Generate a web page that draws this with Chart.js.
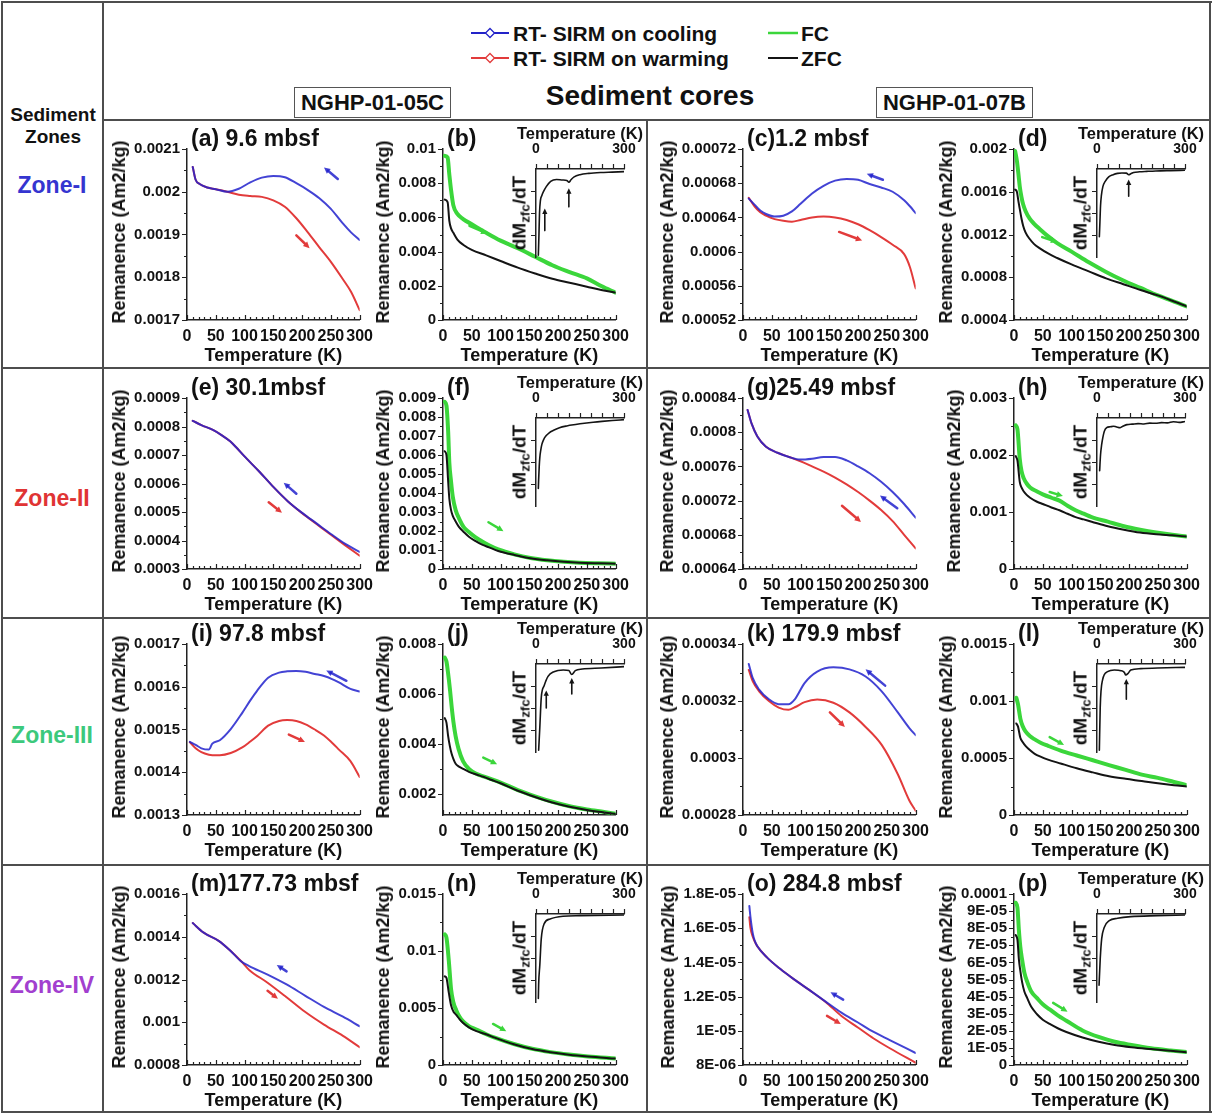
<!DOCTYPE html>
<html>
<head>
<meta charset="utf-8">
<title>RT-SIRM and FC/ZFC curves, NGHP-01-05C and NGHP-01-07B</title>
<script src="https://cdn.jsdelivr.net/npm/chart.js@4.4.1/dist/chart.umd.min.js"></script>
<style>
  body { margin: 0; background: #fff; }
  #page { position: relative; width: 1213px; height: 1115px; overflow: hidden; background: #fff;
          font-family: "Liberation Sans", Arial, Helvetica, sans-serif; font-weight: bold; color: #111; }
  .ln { position: absolute; background: #4d4d4d; }
  .txt { position: absolute; white-space: nowrap; line-height: 1; }
  .box { position: absolute; border: 1.5px solid #555; box-sizing: border-box; display: flex;
         align-items: center; justify-content: center; font-size: 22px; }
  sub { font-size: 0.7em; vertical-align: -0.3em; line-height: 0; }
  canvas { position: absolute; }
</style>
</head>
<body>
<div id="page">
  <svg style="position:absolute;left:0;top:0" width="1213" height="80">
    <line x1="471" y1="33" x2="509" y2="33" stroke="#2323c8" stroke-width="2"/>
    <path d="M490 28.5 l4.5 4.5 l-4.5 4.5 l-4.5 -4.5 z" fill="#fff" stroke="#2323c8" stroke-width="1.3"/>
    <line x1="471" y1="58" x2="509" y2="58" stroke="#e23b3b" stroke-width="2"/>
    <path d="M490 53.5 l4.5 4.5 l-4.5 4.5 l-4.5 -4.5 z" fill="#fff" stroke="#e23b3b" stroke-width="1.3"/>
    <line x1="768" y1="33" x2="798" y2="33" stroke="#3bd63b" stroke-width="2.5"/>
    <line x1="768" y1="58" x2="798" y2="58" stroke="#141414" stroke-width="2"/>
  </svg>
  <div class="box" style="left:294px;top:87px;width:157px;height:31px;">NGHP-01-05C</div>
  <div class="box" style="left:876px;top:87px;width:157px;height:31px;">NGHP-01-07B</div>
</div>
<script>
// ---- data ----
const xTicks = [0, 50, 100, 150, 200, 250, 300];
const insetXTicks = [0, 37.5, 75, 112.5, 150, 187.5, 225, 262.5, 300];

// (a) 9.6 mbsf
const tA = [10, 15, 22, 35, 50, 70, 90, 110, 130, 150, 170, 190, 210, 230, 250, 270, 285, 300];
const coolA = [0.002058, 0.002028, 0.002018, 0.00201, 0.002006, 0.002, 0.002007, 0.002022, 0.002033, 0.002037, 0.002034, 0.00202, 0.002004, 0.001985, 0.00196, 0.001927, 0.001905, 0.001887];
const warmA = [0.002058, 0.002028, 0.002018, 0.00201, 0.002006, 0.002, 0.001993, 0.00199, 0.001988, 0.00198, 0.001965, 0.001938, 0.001905, 0.00187, 0.001836, 0.001797, 0.001766, 0.001723];
const yTicksA = ['0.0017', '0.0018', '0.0019', '0.002', '0.0021'];
const arrowsA = [[262, 0.00203, 238, 0.002057], [190, 0.001898, 213, 0.001868]];

// (b)
const tB = [3, 8, 11, 14, 18, 25, 35, 50, 75, 100, 130, 160, 190, 220, 250, 275, 300];
const fcB = [0.0096, 0.0095, 0.0085, 0.0076, 0.0067, 0.0062, 0.0059, 0.0056, 0.0051, 0.00464, 0.0042, 0.0037, 0.0032, 0.0028, 0.00243, 0.00199, 0.0016];
const zfcB = [0.00704, 0.0069, 0.0058, 0.00536, 0.0051, 0.0047, 0.0044, 0.0041, 0.00378, 0.00345, 0.00306, 0.00272, 0.00241, 0.00218, 0.00195, 0.00176, 0.0016];
const yTicksB = ['0', '0.002', '0.004', '0.006', '0.008', '0.01'];
const arrowsB = [[46, 0.00551, 77, 0.00505]];
const tInB = [8, 10, 12, 15, 20, 25, 35, 50, 70, 90, 105, 112, 120, 130, 150, 180, 220, 260, 300];
const dInB = [-0.98, -0.75, -0.5, -0.36, -0.3, -0.26, -0.2, -0.14, -0.12, -0.125, -0.13, -0.15, -0.12, -0.09, -0.065, -0.05, -0.04, -0.035, -0.03];
const inArrowsB = [[30, -0.7, 30, -0.45], [112, -0.43, 112, -0.22]];

// (c) 1.2 mbsf
const tC = [10, 20, 30, 40, 55, 70, 85, 100, 120, 140, 160, 180, 200, 220, 240, 260, 280, 290, 300];
const coolC = [0.000662, 0.000655, 0.000648, 0.000644, 0.000641, 0.000642, 0.000647, 0.000656, 0.000668, 0.000677, 0.000683, 0.000685, 0.000684, 0.000679, 0.000675, 0.00067, 0.00066, 0.000653, 0.000645];
const warmC = [0.000663, 0.000653, 0.000646, 0.000642, 0.000638, 0.000636, 0.000635, 0.000637, 0.00064, 0.000641, 0.00064, 0.000637, 0.000632, 0.000625, 0.000617, 0.000608, 0.000597, 0.000582, 0.000557];
const yTicksC = ['0.00052', '0.00056', '0.0006', '0.00064', '0.00068', '0.00072'];
const arrowsC = [[243, 0.000684, 215, 0.000691], [167, 0.000623, 207, 0.000613]];

// (d)
const tD = [2, 5, 8, 10, 13, 16, 20, 27, 35, 45, 60, 75, 100, 130, 160, 190, 220, 250, 275, 300];
const fcD = [0.00198, 0.00189, 0.00175, 0.00165, 0.00155, 0.00148, 0.00142, 0.00135, 0.0013, 0.00125, 0.00118, 0.00112, 0.00104, 0.00094, 0.00085, 0.00077, 0.0007, 0.00063, 0.00058, 0.000527];
const zfcD = [0.00162, 0.0016, 0.0015, 0.00144, 0.00135, 0.00128, 0.00122, 0.00116, 0.00111, 0.00107, 0.00102, 0.00098, 0.00092, 0.000855, 0.00079, 0.000735, 0.00068, 0.00063, 0.00058, 0.000527];
const yTicksD = ['0.0004', '0.0008', '0.0012', '0.0016', '0.002'];
const arrowsD = [[49, 0.001176, 75, 0.00113]];
const tInD = [8, 10, 12, 15, 20, 28, 40, 55, 70, 85, 100, 108, 115, 125, 145, 170, 200, 250, 300];
const dInD = [-0.77, -0.6, -0.42, -0.3, -0.2, -0.14, -0.09, -0.065, -0.05, -0.045, -0.047, -0.065, -0.055, -0.04, -0.032, -0.027, -0.022, -0.018, -0.015];
const inArrowsD = [[108, -0.31, 108, -0.12]];

// (e) 30.1 mbsf
const tE = [10, 25, 45, 60, 75, 85, 100, 125, 150, 175, 200, 225, 250, 275, 300];
const coolE = [0.00082, 0.000805, 0.000788, 0.00077, 0.000748, 0.000728, 0.000695, 0.000643, 0.000588, 0.000538, 0.000497, 0.00046, 0.000423, 0.000388, 0.00036];
const warmE = [0.00082, 0.000805, 0.000788, 0.00077, 0.000748, 0.000728, 0.000695, 0.000643, 0.000588, 0.000538, 0.000496, 0.000458, 0.00042, 0.000383, 0.000347];
const yTicksE = ['0.0003', '0.0004', '0.0005', '0.0006', '0.0007', '0.0008', '0.0009'];
const arrowsE = [[190, 0.000564, 168, 0.000603], [142, 0.000534, 165, 0.000497]];

// (f)
const tF = [3, 6, 9, 11, 14, 17, 22, 28, 36, 45, 56, 68, 80, 96, 124, 152, 181, 210, 237, 270, 300];
const fcF = [0.0088, 0.0086, 0.0072, 0.0056, 0.0046, 0.0038, 0.0031, 0.00265, 0.0022, 0.00195, 0.00168, 0.00145, 0.00125, 0.00103, 0.00077, 0.00058, 0.00046, 0.00038, 0.00033, 0.0003, 0.00028];
const zfcF = [0.0062, 0.006, 0.0046, 0.0037, 0.0031, 0.0028, 0.0025, 0.0022, 0.00195, 0.0017, 0.00148, 0.00128, 0.00114, 0.00095, 0.00074, 0.00057, 0.00046, 0.00038, 0.00033, 0.0003, 0.00028];
const yTicksF = ['0', '0.001', '0.002', '0.003', '0.004', '0.005', '0.006', '0.007', '0.008', '0.009'];
const arrowsF = [[79, 0.00246, 105, 0.00199]];
const tInF = [8, 9, 11, 13, 16, 20, 26, 35, 45, 60, 80, 105, 135, 165, 195, 225, 260, 300];
const dInF = [-0.8, -0.7, -0.55, -0.45, -0.37, -0.3, -0.245, -0.2, -0.168, -0.14, -0.11, -0.09, -0.074, -0.06, -0.048, -0.038, -0.028, -0.019];

// (g) 25.49 mbsf
const tG = [8, 15, 25, 40, 60, 80, 100, 120, 140, 160, 180, 200, 220, 240, 260, 280, 300];
const coolG = [0.000826, 0.00081, 0.000795, 0.000783, 0.000776, 0.000771, 0.000768, 0.000769, 0.000771, 0.000771, 0.000767, 0.00076, 0.000752, 0.000742, 0.00073, 0.000716, 0.0007];
const warmG = [0.000826, 0.00081, 0.000795, 0.000783, 0.000776, 0.000771, 0.000766, 0.00076, 0.000754, 0.000747, 0.000739, 0.00073, 0.00072, 0.000709, 0.000696, 0.00068, 0.000664];
const yTicksG = ['0.00064', '0.00068', '0.00072', '0.00076', '0.0008', '0.00084'];
const arrowsG = [[268, 0.000711, 238, 0.000726], [172, 0.000714, 205, 0.000695]];

// (h)
const tH = [3, 6, 10, 13, 17, 22, 28, 40, 50, 65, 79, 93, 107, 121, 135, 163, 191, 219, 247, 275, 300];
const fcH = [0.00252, 0.00245, 0.00193, 0.00172, 0.00159, 0.0015, 0.00143, 0.00136, 0.00131, 0.00125, 0.0012, 0.00111, 0.00103, 0.00097, 0.00091, 0.00083, 0.00075, 0.00069, 0.00064, 0.0006, 0.00057];
const zfcH = [0.00198, 0.0019, 0.00153, 0.00143, 0.00136, 0.0013, 0.00125, 0.00118, 0.00114, 0.00108, 0.00103, 0.00097, 0.00091, 0.00087, 0.00083, 0.00075, 0.00069, 0.00064, 0.00061, 0.00059, 0.00057];
const yTicksH = ['0', '0.001', '0.002', '0.003'];
const arrowsH = [[62, 0.00135, 85, 0.00128]];
const tInH = [9, 12, 16, 20, 25, 33, 45, 56, 65, 79, 90, 102, 120, 140, 160, 180, 200, 220, 240, 260, 280, 300];
const dInH = [-0.6, -0.42, -0.3, -0.22, -0.15, -0.11, -0.1, -0.094, -0.1, -0.11, -0.09, -0.075, -0.07, -0.064, -0.068, -0.058, -0.06, -0.052, -0.055, -0.042, -0.05, -0.04];

// (i) 97.8 mbsf
const tI = [5, 15, 25, 38, 44, 57, 76, 96, 110, 122, 141, 160, 174, 190, 206, 222, 238, 252, 264, 284, 300];
const coolI = [0.001471, 0.001464, 0.001456, 0.001453, 0.001467, 0.001475, 0.001501, 0.001539, 0.001568, 0.001591, 0.001621, 0.001633, 0.001636, 0.001637, 0.001635, 0.00163, 0.001625, 0.001618, 0.00161, 0.001595, 0.001589];
const warmI = [0.00147, 0.001456, 0.001447, 0.001441, 0.00144, 0.00144, 0.001445, 0.001458, 0.001472, 0.001485, 0.001509, 0.00152, 0.001522, 0.00152, 0.001512, 0.0015, 0.001486, 0.001469, 0.001453, 0.001426, 0.001389];
const yTicksI = ['0.0013', '0.0014', '0.0015', '0.0016', '0.0017'];
const arrowsI = [[277, 0.001614, 242, 0.001638], [177, 0.001488, 205, 0.001471]];

// (j)
const tJ = [3, 6, 9, 12, 15, 18, 22, 27, 35, 45, 58, 70, 85, 100, 130, 160, 190, 220, 250, 280, 300];
const fcJ = [0.00746, 0.0073, 0.0068, 0.0062, 0.0055, 0.0049, 0.0043, 0.0038, 0.0033, 0.003, 0.0028, 0.0027, 0.00258, 0.00245, 0.00215, 0.0019, 0.00168, 0.0015, 0.00137, 0.00127, 0.0012];
const zfcJ = [0.00503, 0.00485, 0.0043, 0.0039, 0.0036, 0.0034, 0.0032, 0.0031, 0.003, 0.00288, 0.00277, 0.00268, 0.00255, 0.00242, 0.00212, 0.00187, 0.00165, 0.00148, 0.00135, 0.00125, 0.00119];
const yTicksJ = ['0.002', '0.004', '0.006', '0.008'];
const yMinJ = 0.00115;
const arrowsJ = [[70, 0.00345, 94, 0.00318]];
const tInJ = [9, 13, 18, 28, 41, 61, 93, 112, 122, 134, 158, 222, 300];
const dInJ = [-0.98, -0.72, -0.38, -0.245, -0.14, -0.087, -0.068, -0.075, -0.12, -0.075, -0.057, -0.045, -0.03];
const inArrowsJ = [[35, -0.5, 35, -0.3], [122, -0.34, 122, -0.16]];

// (k) 179.9 mbsf
const tK = [10, 17, 28, 45, 62, 79, 90, 107, 129, 157, 185, 213, 241, 269, 289, 300];
const coolK = [0.000333, 0.000328, 0.000324, 0.0003206, 0.0003189, 0.0003189, 0.0003206, 0.0003263, 0.0003303, 0.0003318, 0.0003311, 0.0003286, 0.0003234, 0.000316, 0.0003105, 0.000308];
const warmK = [0.0003309, 0.0003269, 0.0003234, 0.00032, 0.0003177, 0.0003169, 0.0003178, 0.0003196, 0.0003205, 0.0003194, 0.000316, 0.0003109, 0.0003046, 0.0002943, 0.0002851, 0.0002815];
const yTicksK = ['0.00028', '0.0003', '0.00032', '0.00034'];
const arrowsK = [[247, 0.0003254, 213, 0.0003311], [151, 0.000316, 177, 0.0003109]];

// (l)
const tL = [4, 7, 11, 15, 20, 28, 36, 47, 59, 81, 109, 137, 165, 194, 222, 250, 278, 300];
const fcL = [0.001028, 0.00097, 0.000846, 0.00078, 0.000733, 0.00069, 0.000663, 0.000632, 0.000607, 0.000565, 0.000522, 0.00048, 0.000438, 0.000396, 0.000354, 0.000326, 0.00029, 0.000262];
const zfcL = [0.000803, 0.000775, 0.000677, 0.00064, 0.000607, 0.000568, 0.000537, 0.00051, 0.000486, 0.000452, 0.00041, 0.000374, 0.00034, 0.000317, 0.000298, 0.000278, 0.000261, 0.00025];
const yTicksL = ['0', '0.0005', '0.001', '0.0015'];
const arrowsL = [[62, 0.000683, 87, 0.000615]];
const tInL = [8, 11, 19, 36, 59, 82, 93, 98, 106, 115, 149, 206, 300];
const dInL = [-0.98, -0.49, -0.18, -0.087, -0.068, -0.076, -0.095, -0.125, -0.106, -0.068, -0.053, -0.046, -0.038];
const inArrowsL = [[100, -0.4, 100, -0.17]];

// (m) 177.73 mbsf
const tM = [10, 29, 55, 75, 95, 108, 140, 173, 205, 238, 271, 300];
const coolM = [0.001464, 0.001419, 0.001381, 0.001336, 0.001283, 0.001263, 0.001223, 0.001177, 0.001125, 0.001072, 0.001026, 0.000981];
const warmM = [0.001464, 0.001419, 0.001381, 0.001336, 0.001283, 0.001245, 0.001185, 0.001117, 0.001049, 0.000989, 0.000936, 0.000883];
const yTicksM = ['0.0008', '0.001', '0.0012', '0.0014', '0.0016'];
const arrowsM = [[173, 0.001238, 156, 0.001268], [140, 0.001147, 158, 0.00111]];

// (n)
const tN = [3, 6, 10, 14, 18, 23, 29, 35, 45, 58, 75, 90, 123, 155, 187, 219, 252, 300];
const fcN = [0.01146, 0.01118, 0.0092, 0.00665, 0.0055, 0.00481, 0.0042, 0.00382, 0.0034, 0.00311, 0.0027, 0.0024, 0.00184, 0.00142, 0.00113, 0.00092, 0.00075, 0.00057];
const zfcN = [0.00778, 0.00764, 0.00637, 0.00524, 0.0047, 0.00439, 0.004, 0.00368, 0.0033, 0.00297, 0.0027, 0.0024, 0.00182, 0.0014, 0.00112, 0.0009, 0.00074, 0.00056];
const yTicksN = ['0', '0.005', '0.01', '0.015'];
const arrowsN = [[87, 0.0036, 110, 0.00297]];
const tInN = [8, 9, 13, 18, 28, 48, 92, 150, 300];
const dInN = [-0.96, -0.8, -0.58, -0.28, -0.11, -0.057, -0.026, -0.019, -0.011];

// (o) 284.8 mbsf
const tO = [11, 13, 17, 20, 25, 42, 65, 87, 115, 143, 171, 199, 227, 255, 300];
const coolO = [1.73e-5, 1.664e-5, 1.569e-5, 1.53e-5, 1.494e-5, 1.428e-5, 1.361e-5, 1.305e-5, 1.239e-5, 1.172e-5, 1.106e-5, 1.05e-5, 0.993e-5, 0.946e-5, 0.87e-5];
const warmO = [1.664e-5, 1.6e-5, 1.55e-5, 1.525e-5, 1.494e-5, 1.428e-5, 1.361e-5, 1.305e-5, 1.239e-5, 1.17e-5, 1.087e-5, 1.021e-5, 0.955e-5, 0.898e-5, 0.813e-5];
const yTicksO = ['8E-06', '1E-05', '1.2E-05', '1.4E-05', '1.6E-05', '1.8E-05'];
const arrowsO = [[174, 1.182e-5, 152, 1.225e-5], [146, 1.087e-5, 170, 1.04e-5]];

// (p)
const tP = [3, 6, 8.5, 11, 14, 18, 23, 30, 40, 50, 62, 76, 91, 119, 147, 175, 204, 238, 272, 300];
const fcP = [9.49e-5, 9.2e-5, 7.88e-5, 6.9e-5, 6.18e-5, 5.4e-5, 4.86e-5, 4.3e-5, 3.91e-5, 3.55e-5, 3.25e-5, 2.9e-5, 2.59e-5, 2.02e-5, 1.64e-5, 1.36e-5, 1.17e-5, 0.98e-5, 0.85e-5, 0.76e-5];
const zfcP = [7.6e-5, 7.32e-5, 6.18e-5, 5.5e-5, 4.86e-5, 4.3e-5, 3.91e-5, 3.4e-5, 2.97e-5, 2.65e-5, 2.4e-5, 2.15e-5, 1.93e-5, 1.61e-5, 1.36e-5, 1.17e-5, 1.04e-5, 0.93e-5, 0.83e-5, 0.74e-5];
const yTicksP = ['0', '1E-05', '2E-05', '3E-05', '4E-05', '5E-05', '6E-05', '7E-05', '8E-05', '9E-05', '0.0001'];
const arrowsP = [[68, 3.63e-5, 93, 3.12e-5]];
const tInP = [7, 11, 16, 25, 42, 70, 115, 205, 300];
const dInP = [-0.81, -0.51, -0.28, -0.15, -0.075, -0.049, -0.03, -0.019, -0.011];

// ---- layout ----
const page = document.getElementById('page');
const FONT = '"Liberation Sans", Arial, Helvetica, sans-serif';
const ROW_TOP = [143, 392, 638, 888];
const COL_LEFT = [187, 443, 743, 1014];
const INSET_LEFT = { 1: 536, 3: 1097 };
const PW = 177, PH = 177, IW = 88, IH = 88;
const BLUE = 'rgba(34, 34, 204, 0.85)', RED = '#e23b3b', GREEN = '#3bd63b', BLACK = '#141414';

const panels = [
  { row: 0, col: 0, label: '(a) 9.6 mbsf', ticks: yTicksA, t: tA, a: coolA, b: warmA, type: 'rt', arrows: arrowsA },
  { row: 0, col: 1, label: '(b)', ticks: yTicksB, t: tB, a: fcB, b: zfcB, type: 'fc', arrows: arrowsB, inset: { t: tInB, d: dInB, arrows: inArrowsB } },
  { row: 0, col: 2, label: '(c)1.2 mbsf', ticks: yTicksC, t: tC, a: coolC, b: warmC, type: 'rt', arrows: arrowsC },
  { row: 0, col: 3, label: '(d)', ticks: yTicksD, t: tD, a: fcD, b: zfcD, type: 'fc', arrows: arrowsD, inset: { t: tInD, d: dInD, arrows: inArrowsD } },
  { row: 1, col: 0, label: '(e) 30.1mbsf', ticks: yTicksE, t: tE, a: coolE, b: warmE, type: 'rt', arrows: arrowsE },
  { row: 1, col: 1, label: '(f)', ticks: yTicksF, t: tF, a: fcF, b: zfcF, type: 'fc', arrows: arrowsF, inset: { t: tInF, d: dInF, arrows: [] } },
  { row: 1, col: 2, label: '(g)25.49 mbsf', ticks: yTicksG, t: tG, a: coolG, b: warmG, type: 'rt', arrows: arrowsG },
  { row: 1, col: 3, label: '(h)', ticks: yTicksH, t: tH, a: fcH, b: zfcH, type: 'fc', arrows: arrowsH, inset: { t: tInH, d: dInH, arrows: [] } },
  { row: 2, col: 0, label: '(i) 97.8 mbsf', ticks: yTicksI, t: tI, a: coolI, b: warmI, type: 'rt', arrows: arrowsI },
  { row: 2, col: 1, label: '(j)', ticks: yTicksJ, yMin: yMinJ, t: tJ, a: fcJ, b: zfcJ, type: 'fc', arrows: arrowsJ, inset: { t: tInJ, d: dInJ, arrows: inArrowsJ } },
  { row: 2, col: 2, label: '(k) 179.9 mbsf', ticks: yTicksK, t: tK, a: coolK, b: warmK, type: 'rt', arrows: arrowsK },
  { row: 2, col: 3, label: '(l)', ticks: yTicksL, t: tL, a: fcL, b: zfcL, type: 'fc', arrows: arrowsL, inset: { t: tInL, d: dInL, arrows: inArrowsL } },
  { row: 3, col: 0, label: '(m)177.73 mbsf', ticks: yTicksM, t: tM, a: coolM, b: warmM, type: 'rt', arrows: arrowsM },
  { row: 3, col: 1, label: '(n)', ticks: yTicksN, t: tN, a: fcN, b: zfcN, type: 'fc', arrows: arrowsN, inset: { t: tInN, d: dInN, arrows: [] } },
  { row: 3, col: 2, label: '(o) 284.8 mbsf', ticks: yTicksO, t: tO, a: coolO, b: warmO, type: 'rt', arrows: arrowsO },
  { row: 3, col: 3, label: '(p)', ticks: yTicksP, t: tP, a: fcP, b: zfcP, type: 'fc', arrows: arrowsP, inset: { t: tInP, d: dInP, arrows: [] } }
];

function text(html, cx, cy, size, color, rotate) {
  const d = document.createElement('div');
  d.className = 'txt';
  d.innerHTML = html;
  d.style.left = cx + 'px';
  d.style.top = cy + 'px';
  d.style.fontSize = size + 'px';
  if (color) d.style.color = color;
  d.style.transform = 'translate(-50%, -50%)' + (rotate ? ' rotate(-90deg)' : '');
  page.appendChild(d);
}

function leftText(html, x, cy, size) {
  const d = document.createElement('div');
  d.className = 'txt';
  d.innerHTML = html;
  d.style.left = x + 'px';
  d.style.top = cy + 'px';
  d.style.fontSize = size + 'px';
  d.style.transform = 'translateY(-50%)';
  page.appendChild(d);
}

function line(x, y, w, h) {
  const d = document.createElement('div');
  d.className = 'ln';
  d.style.left = x + 'px'; d.style.top = y + 'px';
  d.style.width = w + 'px'; d.style.height = h + 'px';
  page.appendChild(d);
}

// table frame
line(1, 1, 1211, 2);
line(1, 1111, 1211, 2);
line(1, 1, 2, 1112);
line(1209, 1, 2, 1112);
line(102, 1, 2, 1112);
line(103, 119, 1107, 2);
[367, 617, 864].forEach(y => line(1, y, 1210, 2));
line(646, 119, 2, 994);

// header text
leftText('RT- SIRM on cooling', 513, 33, 21);
leftText('RT- SIRM on warming', 513, 58, 21);
leftText('FC', 801, 33, 21);
leftText('ZFC', 801, 58, 21);
text('Sediment cores', 650, 96, 28);
text('Sediment', 53, 114, 19);
text('Zones', 53, 136, 19);
text('Zone-I', 52, 185, 23, '#3535d0');
text('Zone-II', 52, 498, 23, '#e03434');
text('Zone-III', 52, 735, 23, '#3cc97c');
text('Zone-IV', 52, 985, 23, '#a23fcf');

// ---- chart helpers ----
const meas = document.createElement('canvas').getContext('2d');
meas.font = 'bold 15px ' + FONT;

const xMinor = [];
for (let v = 10; v < 300; v += 10) if (v % 50) xMinor.push(v);

function series(t, v, color, width) {
  return {
    data: t.map((x, i) => ({ x: x, y: v[i] })),
    borderColor: color, borderWidth: width, pointRadius: 0, fill: false,
    cubicInterpolationMode: 'monotone', borderCapStyle: 'round', borderJoinStyle: 'round'
  };
}

function tickMarks(xMajor, xMin, yMajor, yMin, xAtTop) {
  return {
    id: 'tickMarks',
    afterDraw(chart) {
      const { ctx, chartArea: ca, scales: { x, y } } = chart;
      const xe = xAtTop ? ca.top : ca.bottom;
      ctx.save();
      ctx.strokeStyle = '#222';
      ctx.lineWidth = 1.2;
      ctx.beginPath();
      const xt = (v, len) => { const px = Math.round(x.getPixelForValue(v)) + 0.5; ctx.moveTo(px, xe); ctx.lineTo(px, xe - len); };
      const yt = (v, len) => { const py = Math.round(y.getPixelForValue(v)) + 0.5; ctx.moveTo(ca.left, py); ctx.lineTo(ca.left - len, py); };
      xMajor.forEach(v => xt(v, 5));
      xMin.forEach(v => xt(v, 3));
      yMajor.forEach(v => yt(v, 5));
      yMin.forEach(v => yt(v, 3));
      ctx.stroke();
      ctx.restore();
    }
  };
}

function arrowMarks(list, colors, width, head) {
  return {
    id: 'arrowMarks',
    afterDatasetsDraw(chart) {
      const { ctx, scales: { x, y } } = chart;
      list.forEach((a, i) => {
        const col = colors[i % colors.length];
        const x1 = x.getPixelForValue(a[0]), y1 = y.getPixelForValue(a[1]);
        const x2 = x.getPixelForValue(a[2]), y2 = y.getPixelForValue(a[3]);
        const ang = Math.atan2(y2 - y1, x2 - x1);
        ctx.save();
        ctx.strokeStyle = col; ctx.fillStyle = col; ctx.lineWidth = width; ctx.lineCap = 'round';
        ctx.beginPath();
        ctx.moveTo(x1, y1);
        ctx.lineTo(x2 - Math.cos(ang) * head * 0.7, y2 - Math.sin(ang) * head * 0.7);
        ctx.stroke();
        ctx.beginPath();
        ctx.moveTo(x2, y2);
        ctx.lineTo(x2 - head * Math.cos(ang - 0.45), y2 - head * Math.sin(ang - 0.45));
        ctx.lineTo(x2 - head * Math.cos(ang + 0.45), y2 - head * Math.sin(ang + 0.45));
        ctx.closePath();
        ctx.fill();
        ctx.restore();
      });
    }
  };
}

function buildPanel(p) {
  const left = COL_LEFT[p.col], top = ROW_TOP[p.row];
  const vals = p.ticks.map(Number);
  const yMinor = [];
  for (let i = 0; i < vals.length - 1; i++) yMinor.push((vals[i] + vals[i + 1]) / 2);
  const labW = Math.max(...p.ticks.map(s => meas.measureText(s).width));
  const padL = Math.ceil(labW) + 34, padT = 10, padR = 16, padB = 48;

  const cv = document.createElement('canvas');
  cv.width = PW + padL + padR;
  cv.height = PH + padT + padB;
  cv.style.left = (left - padL) + 'px';
  cv.style.top = (top - padT) + 'px';
  page.appendChild(cv);

  const sets = p.type === 'rt'
    ? [series(p.t, p.a, BLUE, 2), series(p.t, p.b, RED, 2)]
    : [series(p.t, p.b, BLACK, 2), series(p.t, p.a, GREEN, 4)];
  const arrowCols = p.type === 'rt' ? [BLUE, RED] : [GREEN];

  new Chart(cv, {
    type: 'line',
    data: { datasets: sets },
    options: {
      responsive: false, maintainAspectRatio: false, animation: false, devicePixelRatio: 1,
      layout: { autoPadding: false, padding: { top: padT, right: padR, bottom: 0, left: 0 } },
      plugins: { legend: { display: false }, tooltip: { enabled: false } },
      scales: {
        x: {
          type: 'linear', min: 0, max: 300,
          afterBuildTicks: s => { s.ticks = xTicks.map(v => ({ value: v })); },
          afterFit: s => { s.height = padB; },
          grid: { display: false, drawTicks: false },
          border: { display: true, color: '#222', width: 1.5 },
          ticks: { autoSkip: false, maxRotation: 0, minRotation: 0, padding: 7, color: '#111',
                   font: { family: FONT, size: 16, weight: 'bold' }, callback: v => String(v) },
          title: { display: true, text: 'Temperature (K)', color: '#111',
                   font: { family: FONT, size: 18, weight: 'bold' }, padding: { top: 0, bottom: 1 } }
        },
        y: {
          type: 'linear', min: p.yMin !== undefined ? p.yMin : vals[0], max: vals[vals.length - 1],
          afterBuildTicks: s => { s.ticks = vals.map(v => ({ value: v })); },
          afterFit: s => { s.width = padL; },
          grid: { display: false, drawTicks: false },
          border: { display: true, color: '#222', width: 1.5 },
          ticks: { autoSkip: false, padding: 7, color: '#111',
                   font: { family: FONT, size: 15, weight: 'bold' }, callback: (v, i) => p.ticks[i] }
        }
      }
    },
    plugins: [tickMarks(xTicks, xMinor, vals, yMinor, false), arrowMarks(p.arrows, arrowCols, 2.5, 7)]
  });

  text('Remanence (Am2/kg)', left - labW - 22, top + PH / 2, 18, null, true);
  leftText(p.label, left + 4, top - 5, 23);
  if (p.inset) buildInset(p);
}

function buildInset(p) {
  const left = INSET_LEFT[p.col], top = ROW_TOP[p.row] + 26;
  const padL = 30, padT = 48, padR = 30, padB = 4;
  const cv = document.createElement('canvas');
  cv.width = IW + padL + padR;
  cv.height = IH + padT + padB;
  cv.style.left = (left - padL) + 'px';
  cv.style.top = (top - padT) + 'px';
  page.appendChild(cv);

  new Chart(cv, {
    type: 'line',
    data: { datasets: [series(p.inset.t, p.inset.d, BLACK, 1.6)] },
    options: {
      responsive: false, maintainAspectRatio: false, animation: false, devicePixelRatio: 1,
      layout: { autoPadding: false, padding: { top: 0, right: padR, bottom: padB, left: 0 } },
      plugins: { legend: { display: false }, tooltip: { enabled: false } },
      scales: {
        x: {
          type: 'linear', position: 'top', min: 0, max: 300,
          afterBuildTicks: s => { s.ticks = insetXTicks.map(v => ({ value: v })); },
          afterFit: s => { s.height = padT; },
          grid: { display: false, drawTicks: false },
          border: { display: true, color: '#222', width: 1.5 },
          ticks: { autoSkip: false, maxRotation: 0, minRotation: 0, padding: 11, color: '#111',
                   font: { family: FONT, size: 14, weight: 'bold' },
                   callback: v => (v === 0 || v === 300) ? String(v) : '' }
        },
        y: {
          type: 'linear', min: -1, max: 0,
          afterFit: s => { s.width = padL; },
          grid: { display: false, drawTicks: false },
          border: { display: true, color: '#222', width: 1.5 },
          ticks: { display: false }
        }
      }
    },
    plugins: [tickMarks(insetXTicks, [], [-0.75, -0.5, -0.25], [], true), arrowMarks(p.inset.arrows, [BLACK], 1.6, 6)]
  });

  text('Temperature (K)', left + IW / 2, top - 36, 16.5);
  text('dM<sub>zfc</sub>/dT', left - 17, top + IH / 2, 19, null, true);
}

panels.forEach(buildPanel);
</script>
</body>
</html>
